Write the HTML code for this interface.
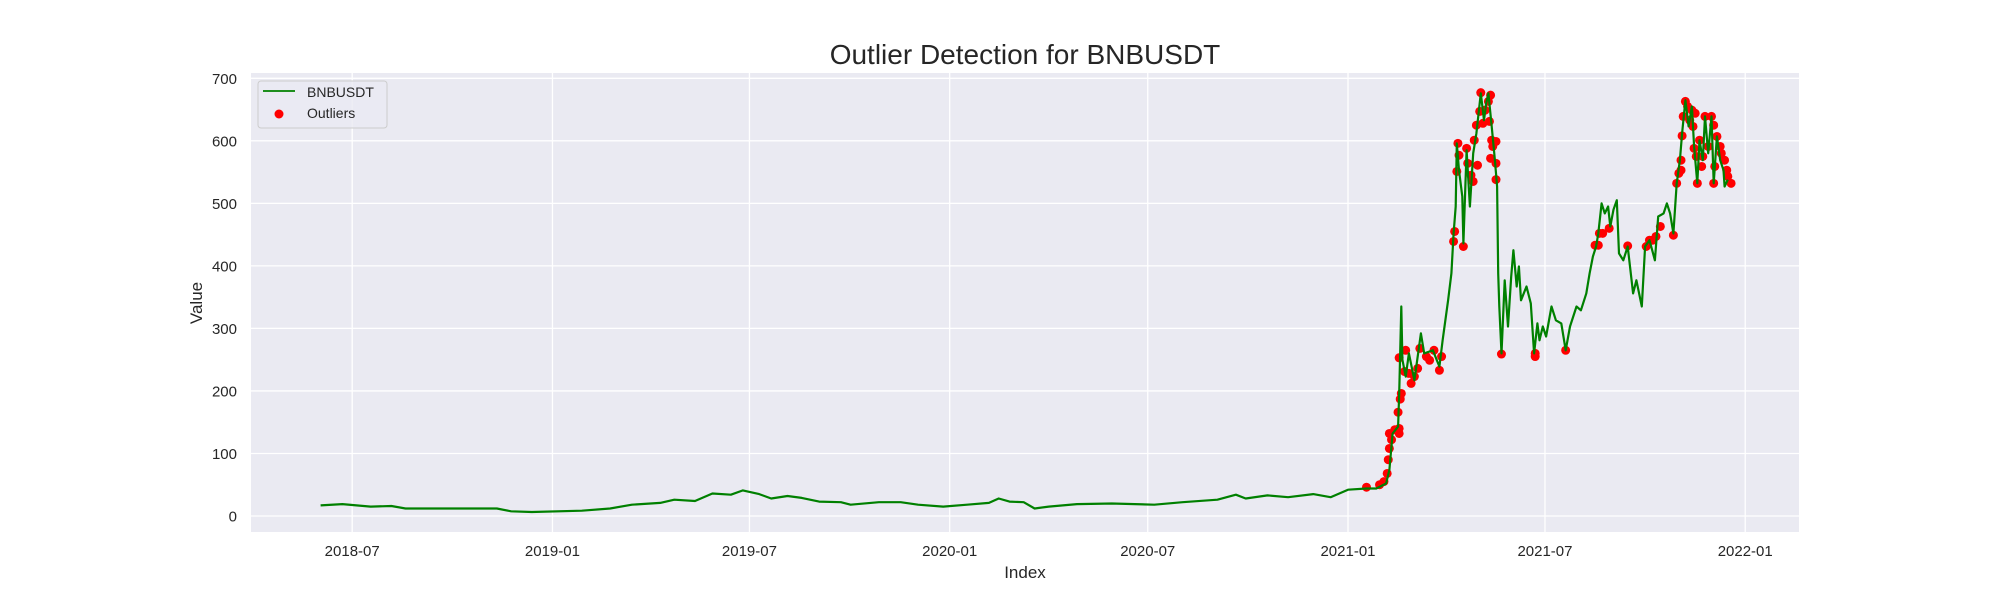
<!DOCTYPE html>
<html><head><meta charset="utf-8"><style>
html,body{margin:0;padding:0;background:#fff;}
svg{display:block;font-family:"Liberation Sans",Arial,sans-serif;}
</style></head><body>
<svg id="chart" width="2000" height="600" viewBox="0 0 2000 600" xmlns="http://www.w3.org/2000/svg">
<rect x="0" y="0" width="2000" height="600" fill="#fff"/>
<text x="1025" y="64" text-anchor="middle" font-size="28" fill="#262626">Outlier Detection for BNBUSDT</text>
<rect x="251" y="73" width="1548" height="459" fill="#eaeaf2"/>
<g id="grid"></g>
<g id="ticks"></g>
<g id="series"></g>
<text x="1025" y="578" text-anchor="middle" font-size="17" fill="#262626">Index</text>
<text transform="translate(202,303) rotate(-90)" text-anchor="middle" font-size="17" fill="#262626">Value</text>
<g>
<rect x="258" y="81" width="129" height="47" rx="3" fill="#eaeaf2" fill-opacity="0.8" stroke="#cccccc"/>
<line x1="263" y1="91" x2="295" y2="91" stroke="#008000" stroke-width="1.8"/>
<text x="307" y="97" font-size="14" fill="#262626">BNBUSDT</text>
<circle cx="279" cy="114" r="4.5" fill="#ff0000"/>
<text x="307" y="118" font-size="14" fill="#262626">Outliers</text>
</g>
</svg>
<script>
// days relative to 2021-01-01
const lineDays = [-944,-924,-898,-879,-866,-834,-782,-769,-750,-704,-678,-658,-632,-619,-600,-584,-567,-556,-541,-530,-515,-502,-486,-466,-457,-431,-411,-395,-372,-350,-330,-321,-311,-298,-288,-275,-249,-217,-178,-152,-120,-103,-94,-74,-55,-32,-16,
0,17,26,35,38,41,46,47,49,50,53,56,61,67,70,78,84,87,92,95,97,99,100,102,105,106,109,112,115,118,121,122,125,127,129,132,135,137,138,139,141,144,147,150,152,155,157,159,164,168,171,174,176,179,182,187,191,196,200,204,210,214,219,222,225,228,230,233,236,239,241,244,247,249,253,257,262,265,270,273,277,282,285,290,293,296,299,302,305,307,310,313,316,318,321,323,326,328,331,334,336,339,342,345,346,349];
const lineValues = [17,19,15,16,12,12,12,7.5,6.4,8.5,12,18,21,26,24,36,34,41,35,28,32,29,23,22,18,22,22,18,15,18,21,28,23,22,12,15,19,20,18,22,26,34,28,33,30,35,30,
42,44,44,52,74,132,143,196,335,250,223,260,217,292,260,265,239,282,345,388,452,495,596,553,511,436,585,495,580,612,660,676,633,660,676,623,569,527,388,335,260,377,303,383,425,367,399,345,367,340,260,308,281,303,287,335,313,308,265,303,335,329,356,388,415,431,452,500,484,495,463,490,505,420,409,431,356,377,335,431,441,409,479,484,500,484,452,532,569,612,665,623,655,591,532,601,569,639,580,639,532,607,569,553,527,538];
const outlierDays = [17,29,33,36,37,38,40,38,43,47,47,46,48,49,47,53,52,56,58,61,64,66,72,75,79,84,86,97,98,101,102,100,106,109,110,113,115,116,118,119,121,122,124,126,129,131,130,132,133,136,131,136,136,141,172,172,200,227,230,231,234,240,257,274,277,280,283,287,299,302,304,306,306,307,308,310,312,314,316,317,319,318,320,321,323,325,326,328,331,334,336,336,337,339,342,343,346,348,349,352];
const outlierValues = [46,50,55,68,90,108,122,132,138,140,132,166,187,196,253,265,231,228,212,223,236,268,255,249,265,233,255,439,455,596,577,551,431,588,564,545,535,601,625,561,647,677,628,649,663,673,631,601,591,599,572,564,538,259,260,255,265,433,433,452,452,460,432,431,441,441,447,463,449,532,548,569,553,608,639,663,655,633,649,623,644,588,575,532,601,559,575,639,591,639,625,532,559,607,591,580,569,553,543,532];
const yTicks = [0,100,200,300,400,500,600,700];
const xTickLabels = ["2018-07","2019-01","2019-07","2020-01","2020-07","2021-01","2021-07","2022-01"];
const xTickDays = [-915,-731,-550,-366,-184,0,181,365];

const NS = "http://www.w3.org/2000/svg";
const X0 = 1348, PXD = 1.0883, Y0 = 516, PXV = 0.6253;
function xs(d){ return X0 + d*PXD; }
function ys(v){ return Y0 - v*PXV; }
function mk(tag, attrs, parent){
  const e = document.createElementNS(NS, tag);
  for (const k in attrs) e.setAttribute(k, attrs[k]);
  parent.appendChild(e); return e;
}
const grid = document.getElementById('grid');
const ticks = document.getElementById('ticks');
const series = document.getElementById('series');

yTicks.forEach(v => {
  const l = mk('line', {x1:251, x2:1799, y1:ys(v), y2:ys(v), stroke:'#fff', 'stroke-width':1.3}, grid);
  
  
  const t = mk('text', {x:237, y:ys(v)+5.5, 'text-anchor':'end', 'font-size':15, fill:'#262626'}, ticks);
  t.textContent = v;
  
  
});
xTickDays.forEach((d, i) => {
  const l = mk('line', {x1:xs(d), x2:xs(d), y1:73, y2:532, stroke:'#fff', 'stroke-width':1.3}, grid);
  
  
  const t = mk('text', {x:xs(d), y:556, 'text-anchor':'middle', 'font-size':15, fill:'#262626'}, ticks);
  t.textContent = xTickLabels[i];
  
  
});

const pts = lineDays.map((d, i) => xs(d).toFixed(1) + ',' + ys(lineValues[i]).toFixed(1)).join(' ');
const pl = mk('polyline', {points:pts, fill:'none', stroke:'#008000', 'stroke-width':2.2, 'stroke-linejoin':'round'}, series);



outlierDays.forEach((d, i) => {
  const c = mk('circle', {cx:xs(d), cy:ys(outlierValues[i]), r:4.5, fill:'#ff0000'}, series);
  
  
});
series.appendChild(pl);
</script>
</body></html>
